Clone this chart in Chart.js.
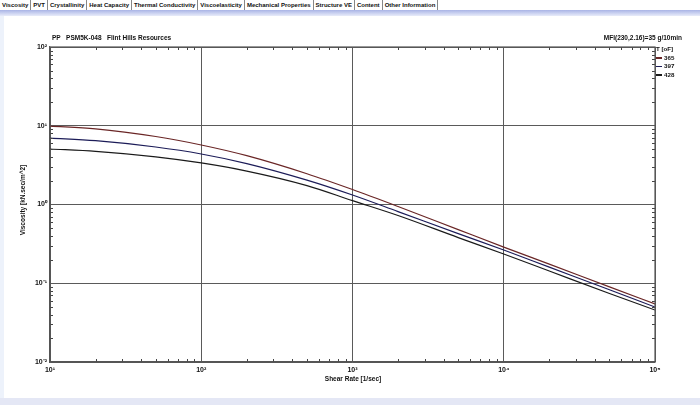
<!DOCTYPE html>
<html><head><meta charset="utf-8">
<script src="https://cdn.jsdelivr.net/npm/chart.js@4.4.1/dist/chart.umd.min.js"></script>
<style>
html,body{margin:0;padding:0;width:700px;height:405px;overflow:hidden;background:#fff;font-family:"Liberation Sans",Arial,sans-serif;}
#tabs{position:absolute;left:0;top:0;height:10px;display:flex;font-size:6px;font-weight:bold;line-height:10px;z-index:3;background:#fff;}
#tabs span{padding:0 2px;border-right:1px solid #888;white-space:nowrap;color:#111;}
#band{position:absolute;left:0;top:10px;width:700px;height:6px;background:linear-gradient(#a9b4e6,#e8ecfa);z-index:2;}
#leftedge{position:absolute;left:0;top:16px;width:4px;height:382px;background:#edf2fb;z-index:2;}
#bottom{position:absolute;left:0;top:398px;width:700px;height:7px;background:#e4e7f5;z-index:2;}
canvas{position:absolute;left:0;top:0;}
.t{position:absolute;font-size:6.5px;font-weight:bold;color:#111;white-space:nowrap;z-index:3;}
#ytitle{left:22px;top:200px;transform:translate(-50%,-50%) rotate(-90deg);}
#xtitle{left:353px;top:375px;transform:translateX(-50%);}
#legend{position:absolute;left:656px;top:45px;font-size:6.2px;font-weight:bold;color:#111;z-index:3;line-height:8.6px;}
#legend .row{display:flex;align-items:center;}
#legend .sw{display:inline-block;width:6px;height:1.3px;margin-right:2px;}
</style></head>
<body>
<div id="tabs"><span>Viscosity</span><span>PVT</span><span>Crystallinity</span><span>Heat Capacity</span><span>Thermal Conductivity</span><span>Viscoelasticity</span><span>Mechanical Properties</span><span>Structure VE</span><span>Content</span><span>Other Information</span></div>
<div id="band"></div>
<div id="leftedge"></div>
<div id="bottom"></div>
<canvas id="c" width="700" height="405"></canvas>
<div class="t" style="left:52px;top:34px;">PP&nbsp;&nbsp;&nbsp;PSM5K-048&nbsp;&nbsp;&nbsp;Flint Hills Resources</div>
<div class="t" style="right:18px;top:34px;">MFI(230,2.16)=35 g/10min</div>
<div class="t" id="ytitle">Viscosity [kN.sec/m^2]</div>
<div class="t" id="xtitle">Shear Rate [1/sec]</div>
<div id="legend"></div>
<script>
// Data
const temperatures = ["365", "397", "428"];
const shearRates = [10, 20, 50, 100, 200, 500, 1000, 2000, 5000, 10000, 20000, 50000, 100000];
const visc365 = [9.9, 9.14, 7.3, 5.7, 4.17, 2.46, 1.55, 0.944, 0.48, 0.288, 0.175, 0.09, 0.0546];
const visc397 = [6.98, 6.46, 5.37, 4.38, 3.31, 2.04, 1.32, 0.813, 0.427, 0.264, 0.16, 0.0826, 0.0499];
const visc428 = [5.07, 4.73, 4.03, 3.37, 2.66, 1.74, 1.12, 0.725, 0.38, 0.235, 0.143, 0.0741, 0.0457];
const xDecades = [10, 100, 1000, 10000, 100000];
const yDecades = [0.01, 0.1, 1, 10, 100];
const xTickLabels = ["10¹", "10²", "10³", "10⁴", "10⁵"];
const yTickLabels = ["10⁻²", "10⁻¹", "10⁰", "10¹", "10²"];
const colors = ["#6a2626", "#1c1c58", "#1a1a1a"];

const seriesValues = [visc365, visc397, visc428];
const datasets = temperatures.map((t, i) => ({
  label: t,
  data: shearRates.map((s, j) => ({x: s, y: seriesValues[i][j]})),
  borderColor: colors[i],
  borderWidth: 1.2,
  pointRadius: 0,
  cubicInterpolationMode: 'monotone',
  fill: false
}));

// legend
const lg = document.getElementById('legend');
lg.innerHTML = '<div>T [oF]</div>' + temperatures.map((t, i) =>
  `<div class="row"><span class="sw" style="background:${colors[i]}"></span>${t}</div>`).join('');

const minorTicks = {
  id: 'minorTicks',
  afterDraw(chart) {
    const ctx = chart.ctx, a = chart.chartArea;
    const xs = chart.scales.x, ys = chart.scales.y;
    ctx.save();
    ctx.strokeStyle = '#444';
    ctx.lineWidth = 1;
    const len = 3;
    ctx.beginPath();
    for (let d = 10; d < 100000; d *= 10) {
      for (let k = 2; k <= 9; k++) {
        const px = Math.round(xs.getPixelForValue(d * k)) + 0.5;
        ctx.moveTo(px, a.bottom); ctx.lineTo(px, a.bottom - len);
        ctx.moveTo(px, a.top); ctx.lineTo(px, a.top + len);
      }
    }
    for (let d = 0.01; d < 99; d *= 10) {
      for (let k = 2; k <= 9; k++) {
        const py = Math.round(ys.getPixelForValue(d * k)) + 0.5;
        ctx.moveTo(a.left, py); ctx.lineTo(a.left + len, py);
        ctx.moveTo(a.right, py); ctx.lineTo(a.right - len, py);
      }
    }
    ctx.stroke();
    ctx.strokeStyle = '#555';
    ctx.lineWidth = 1.2;
    ctx.strokeRect(a.left, a.top, a.right - a.left, a.bottom - a.top);
    ctx.restore();
  }
};

new Chart(document.getElementById('c'), {
  type: 'line',
  data: {datasets},
  plugins: [minorTicks],
  options: {
    responsive: false,
    animation: false,
    events: [],
    layout: {padding: {left: 0, right: 45, top: 47, bottom: 0}},
    plugins: {legend: {display: false}, tooltip: {enabled: false}},
    scales: {
      x: {
        type: 'logarithmic', min: 10, max: 100000,
        afterBuildTicks: s => { s.ticks = xDecades.map(v => ({value: v})); },
        afterFit: s => { s.height = 43; },
        ticks: {
          autoSkip: false, maxRotation: 0, padding: 4, color: '#111',
          font: {family: 'Liberation Sans', size: 7, weight: 'bold'},
          callback: (v) => xTickLabels[xDecades.indexOf(v)] || ''
        },
        grid: {color: '#5a5a5a', lineWidth: 1, drawTicks: false},
        border: {color: '#555', width: 1.2}
      },
      y: {
        type: 'logarithmic', min: 0.01, max: 100,
        afterBuildTicks: s => { s.ticks = yDecades.map(v => ({value: v})); },
        afterFit: s => { s.width = 50; },
        ticks: {
          autoSkip: false, padding: 3, color: '#111',
          font: {family: 'Liberation Sans', size: 7, weight: 'bold'},
          callback: (v) => { const i = yDecades.findIndex(d => Math.abs(d - v) / d < 1e-6); return i >= 0 ? yTickLabels[i] : ''; }
        },
        grid: {color: '#5a5a5a', lineWidth: 1, drawTicks: false},
        border: {color: '#555', width: 1.2}
      }
    }
  }
});
</script>
</body></html>
